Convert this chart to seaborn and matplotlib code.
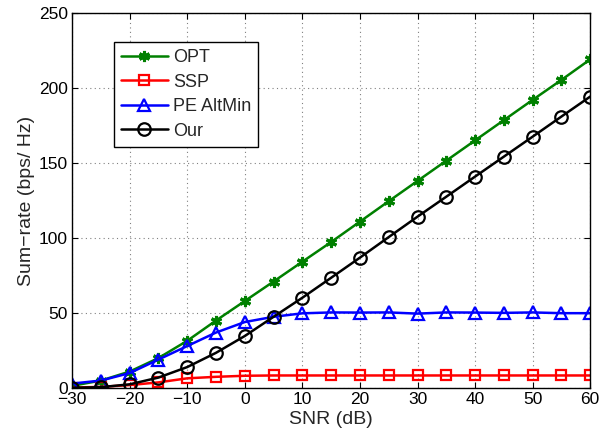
import matplotlib
matplotlib.use("Agg")
import matplotlib.pyplot as plt
import seaborn as sns
import pandas as pd

snr = [-30, -25, -20, -15, -10, -5, 0, 5, 10, 15, 20, 25, 30, 35, 40, 45, 50, 55, 60]
opt = [1.5, 5, 11, 20, 31.5, 45, 58, 71, 84.2, 97.3, 110.9, 124.5, 138, 151.5, 165, 178.5, 192, 205.3, 219]
ssp = [0.3, 0.8, 2, 3.8, 6.5, 7.5, 8.2, 8.4, 8.4, 8.4, 8.4, 8.4, 8.4, 8.4, 8.4, 8.4, 8.4, 8.4, 8.4]
pe = [3, 5, 10, 19, 28, 37, 44, 47.5, 49.8, 50.4, 50.3, 50.4, 49.6, 50.4, 50.3, 50.1, 50.4, 49.9, 49.9]
our = [0.2, 0.6, 2.5, 7, 14, 23.5, 34.7, 47.5, 60.2, 73.5, 86.9, 100.6, 114.2, 127.5, 140.9, 154.2, 167.5, 180.9, 194.2]

series = {"OPT": opt, "SSP": ssp, "PE AltMin": pe, "Our": our}
colors = {"OPT": "#008000", "SSP": "#ff0000", "PE AltMin": "#0000ff", "Our": "#000000"}
markers = {"OPT": (6, 2, 0), "SSP": "s", "PE AltMin": "^", "Our": "o"}
msize = {"OPT": 8, "SSP": 7, "PE AltMin": 9, "Our": 9}

sns.set_style("white")
plt.rcParams["font.family"] = ["Liberation Sans", "DejaVu Sans"]

fig = plt.figure(figsize=(6.11, 4.42), dpi=100)
ax = fig.add_axes([0.118, 0.122, 0.848, 0.849])

for name, vals in series.items():
    df = pd.DataFrame({"SNR": snr, "rate": vals})
    filled = name == "OPT"
    sns.lineplot(data=df, x="SNR", y="rate", ax=ax, color=colors[name],
                 marker=markers[name], markersize=msize[name], linewidth=1.8,
                 markerfacecolor=colors[name] if filled else "none",
                 markeredgecolor=colors[name], markeredgewidth=2.2 if filled else 1.6,
                 label=name)

ax.set_xlim(-30, 60)
ax.set_ylim(0, 250)
ax.set_xticks(range(-30, 61, 10))
ax.set_yticks(range(0, 251, 50))
ax.set_xticklabels(["\u221230", "\u221220", "\u221210", "0", "10", "20", "30", "40", "50", "60"])
ax.grid(True, linestyle=(0, (1, 3)), color="#808080", linewidth=0.8)
ax.tick_params(direction="in", length=4, labelsize=12.5, colors="black", width=0.8,
               top=True, right=True, bottom=True, left=True, pad=3)
for sp in ax.spines.values():
    sp.set_color("black")
    sp.set_linewidth(1.0)
ax.set_xlabel("SNR (dB)", fontsize=14, labelpad=3)
ax.set_ylabel("Sum\u2212rate (bps/ Hz)", fontsize=14, labelpad=3)

leg = ax.legend(loc="upper left", bbox_to_anchor=(0.081, 0.922), fontsize=13,
                frameon=True, fancybox=False, edgecolor="black", framealpha=1,
                borderpad=0.38, labelspacing=0.42, handlelength=2.6, handletextpad=0.3,
                borderaxespad=0)
leg.get_frame().set_linewidth(1.0)

fig.savefig("out.png", dpi=100)
